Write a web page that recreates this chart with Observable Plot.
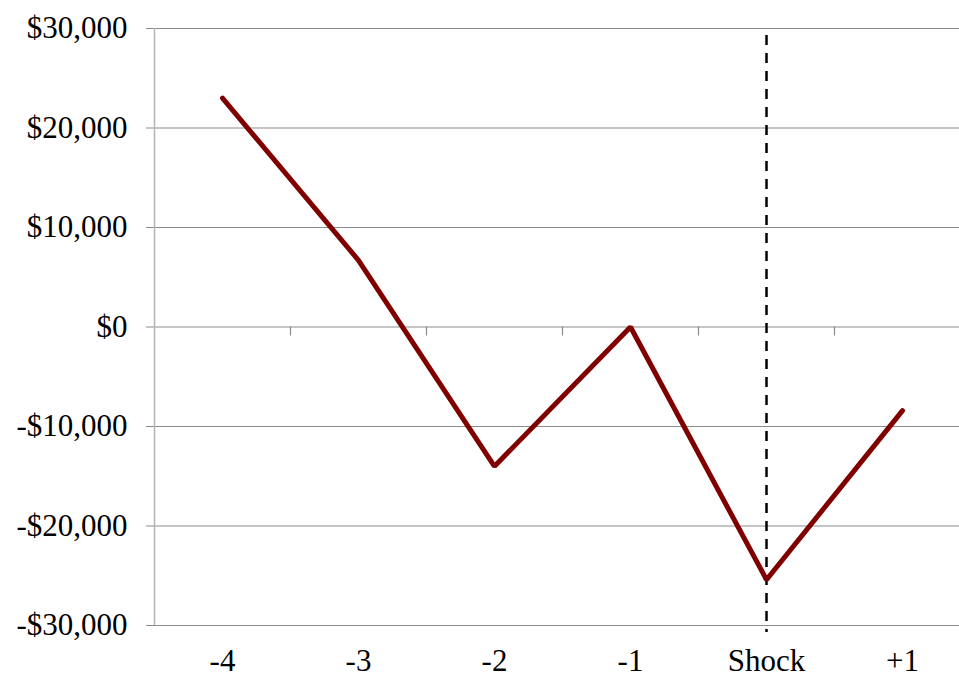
<!DOCTYPE html>
<html>
<head>
<meta charset="utf-8">
<script src="https://cdn.jsdelivr.net/npm/d3@7"></script>
<script src="https://cdn.jsdelivr.net/npm/@observablehq/plot@0.6"></script>
<style>
  html, body { margin: 0; padding: 0; background: #fff; }
  svg { display: block; }
</style>
</head>
<body>
<div id="chart"></div>
<script>
const categories = ["-4", "-3", "-2", "-1", "Shock", "+1"];
const values = [23000, 6700, -14000, 0, -25400, -8400];
const yTicks = [-30000, -20000, -10000, 0, 10000, 20000, 30000];
const shockLabel = "Shock";

const data = categories.map((c, i) => ({i, c, v: values[i]}));
const boundaries = categories.slice(1).map((_, i) => i + 0.5);
const shockIndex = categories.indexOf(shockLabel);

const fmt = v => (v < 0 ? "-$" : "$") + d3.format(",")(Math.abs(v));

const chart = Plot.plot({
  width: 959,
  height: 675,
  marginLeft: 154,
  marginRight: 0,
  marginTop: 28,
  marginBottom: 50,
  style: {fontFamily: "'Liberation Serif', 'Times New Roman', serif", fontSize: "31px", color: "#000", background: "#fff"},
  x: {type: "linear", domain: [-0.5, 5.5], range: [154, 970]},
  y: {domain: [-30000, 30000]},
  marks: [
    Plot.ruleY(yTicks, {stroke: "#8c8c8c", strokeWidth: 1.2, insetLeft: -8}),
    Plot.ruleX([0], {x: () => -0.5, stroke: "#b5b5b5", strokeWidth: 1.5}),
    Plot.ruleX(boundaries, {y1: 0, y2: 0, insetBottom: -9, stroke: "#8c8c8c", strokeWidth: 1.2}),
    Plot.axisY({ticks: yTicks, tickFormat: fmt, tickSize: 0, tickPadding: 27, fontSize: 31, fill: "#000", label: null}),
    Plot.axisX({ticks: categories.map((_, i) => i), tickFormat: i => categories[i], tickSize: 0, tickPadding: 23, fontSize: 31, fill: "#000", label: null}),
    Plot.ruleX([shockIndex], {stroke: "#000", strokeWidth: 2.5, strokeDasharray: "10,8", strokeDashoffset: -7, insetBottom: -7}),
    Plot.line(data, {x: "i", y: "v", stroke: "#800000", strokeWidth: 5, strokeLinejoin: "miter", strokeLinecap: "round"})
  ]
});
document.getElementById("chart").appendChild(chart);
</script>
</body>
</html>
